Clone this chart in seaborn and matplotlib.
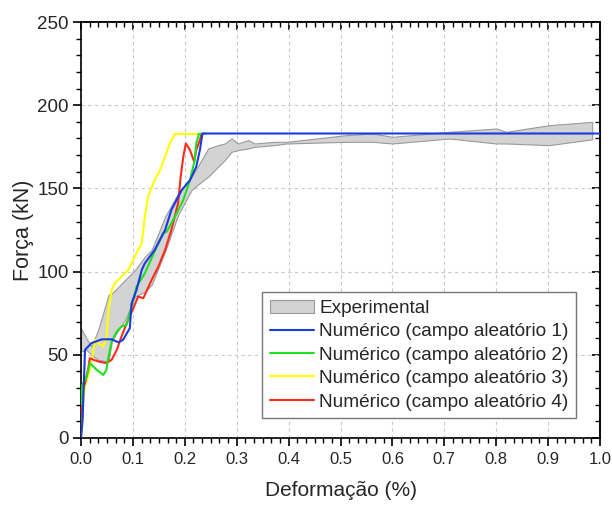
import numpy as np
import pandas as pd
import matplotlib
matplotlib.use("Agg")
import matplotlib.pyplot as plt
import seaborn as sns
from matplotlib.ticker import MultipleLocator, AutoMinorLocator

# ---------------- data ----------------
exp_up_x = [0.0, 0.01, 0.02, 0.033, 0.053, 0.06, 0.085, 0.104, 0.123, 0.136, 0.162,
            0.187, 0.213, 0.232, 0.245, 0.264, 0.277, 0.29, 0.3025, 0.322, 0.335,
            0.373, 0.396, 0.511, 0.562, 0.6, 0.71, 0.8, 0.819, 0.902, 0.985]
exp_up_y = [66, 60, 55, 65, 86, 87, 95, 101, 109, 113, 133,
            147, 157, 167, 174, 176, 177, 180, 177, 179, 177,
            178, 178, 182, 183, 181, 184, 186, 184, 188, 190]
exp_lo_y = [52, 53, 50, 47, 46, 59, 71, 85, 88, 92, 112,
            134, 149, 154, 157, 163, 167, 172, 173, 174, 175,
            176, 177, 178, 178, 177, 180, 177, 177, 176, 179.5]

num1_x = [0.0, 0.003, 0.0077, 0.02, 0.04, 0.059, 0.072, 0.081, 0.094, 0.0975, 0.107,
          0.117, 0.123, 0.142, 0.162, 0.174, 0.194, 0.21, 0.222, 0.229, 0.234, 1.0]
num1_y = [0, 11, 53, 57, 59.3, 59.3, 57.5, 59, 66, 81, 89,
          101, 105, 113, 125, 137, 149, 155, 163, 173, 183, 183]

num2_x = [0.0, 0.0025, 0.011, 0.017, 0.03, 0.043, 0.049, 0.053, 0.059, 0.069, 0.078,
          0.088, 0.094, 0.107, 0.123, 0.146, 0.158, 0.165, 0.181, 0.197, 0.21, 0.219,
          0.222, 0.227, 0.24]
num2_y = [20, 31.8, 36.8, 45, 41, 37.9, 41, 49, 58, 64, 67,
          68, 75, 91, 99, 115, 123, 124, 133, 143, 155, 167,
          177, 182.7, 183]

num3_x = [0.0, 0.0025, 0.0045, 0.0077, 0.017, 0.024, 0.027, 0.033, 0.043, 0.049, 0.053,
          0.059, 0.065, 0.091, 0.11, 0.117, 0.123, 0.129, 0.142, 0.152, 0.162, 0.171,
          0.181, 0.226]
num3_y = [0, 7.8, 23, 31, 41, 53, 59, 57, 55, 61, 77,
          89, 93, 101, 113, 117, 133, 145, 155, 161, 169, 177,
          182.7, 182.7]

num4_x = [0.0, 0.0025, 0.0077, 0.014, 0.017, 0.024, 0.033, 0.049, 0.059, 0.069, 0.078,
          0.088, 0.094, 0.11, 0.12, 0.136, 0.149, 0.162, 0.174, 0.187, 0.192, 0.197,
          0.202, 0.21, 0.218, 0.222, 0.229, 0.232]
num4_y = [15, 29, 33, 42, 48, 47, 46, 45, 47, 53, 61,
          69, 73, 85, 84, 95, 103, 113, 125, 141, 157, 169,
          177, 173, 166, 173, 179, 182.7]

labels = ["Experimental",
          "Numérico (campo aleatório 1)",
          "Numérico (campo aleatório 2)",
          "Numérico (campo aleatório 3)",
          "Numérico (campo aleatório 4)"]

x_ticks = [0.0, 0.1, 0.2, 0.3, 0.4, 0.5, 0.6, 0.7, 0.8, 0.9, 1.0]
x_ticklabels = ["0.0", "0.1", "0.2", "0.3", "0.4", "0.5", "0.6", "0.7", "0.8", "0.9", "1.0"]

# ---------------- plot ----------------
sns.set_style("ticks")
plt.rcParams['font.family'] = ['Liberation Sans', 'DejaVu Sans']

fig = plt.figure(figsize=(6.12, 5.05), dpi=100)
ax = fig.add_axes([0.1324, 0.1327, 0.848, 0.8237])

ax.fill_between(exp_up_x, exp_lo_y, exp_up_y, facecolor="#d3d3d3",
                edgecolor="#9a9a9a", linewidth=0.8, label=labels[0], zorder=2)

series = [
    (num3_x, num3_y, "#ffff00", labels[3], 3),
    (num4_x, num4_y, "#ff2a1a", labels[4], 4),
    (num2_x, num2_y, "#1ee01e", labels[2], 5),
    (num1_x, num1_y, "#1a3be0", labels[1], 6),
]
for xs, ys, col, lab, z in series:
    df = pd.DataFrame({"x": xs, "y": ys})
    sns.lineplot(data=df, x="x", y="y", sort=False, estimator=None,
                 color=col, linewidth=1.5, label=lab, ax=ax, zorder=z)

ax.set_xlim(0, 1.0)
ax.set_ylim(0, 250)
ax.set_xticks(x_ticks)
ax.set_xticklabels(x_ticklabels)
ax.xaxis.set_minor_locator(AutoMinorLocator(6))
ax.yaxis.set_major_locator(MultipleLocator(50))
ax.yaxis.set_minor_locator(AutoMinorLocator(5))

ax.grid(True, which="major", linestyle=(0, (3, 3)), color="#c8c8c8", linewidth=0.8)
ax.set_axisbelow(True)

# bottom / left ticks point out
ax.tick_params(which="both", direction="out", color="black")
ax.tick_params(which="major", length=6, width=1.2)
ax.tick_params(which="minor", length=3.5, width=1.0)
ax.tick_params(axis="x", which="major", labelsize=12, pad=4)
ax.tick_params(axis="y", which="major", labelsize=13.5, pad=3)
for s in ax.spines.values():
    s.set_linewidth(1.2)
    s.set_color("black")

# top / right ticks point in
top = ax.secondary_xaxis("top")
top.set_xticks(x_ticks)
top.xaxis.set_minor_locator(AutoMinorLocator(6))
top.tick_params(which="both", direction="in", labeltop=False, color="black")
top.tick_params(which="major", length=6, width=1.2)
top.tick_params(which="minor", length=3.5, width=1.0)
right = ax.secondary_yaxis("right")
right.yaxis.set_major_locator(MultipleLocator(50))
right.yaxis.set_minor_locator(AutoMinorLocator(5))
right.tick_params(which="both", direction="in", labelright=False, color="black")
right.tick_params(which="major", length=6, width=1.2)
right.tick_params(which="minor", length=3.5, width=1.0)
for sec in (top, right):
    for s in sec.spines.values():
        s.set_linewidth(1.2)

ax.set_xlabel("Deformação (%)", fontsize=15, labelpad=10)
ax.set_ylabel("Força (kN)", fontsize=15.5, labelpad=2)

handles, labs = ax.get_legend_handles_labels()
order = [labs.index(l) for l in labels]
leg = ax.legend([handles[i] for i in order], [labs[i] for i in order],
                loc="upper left", bbox_to_anchor=(0.349, 0.351), borderaxespad=0,
                fontsize=13.7, frameon=True, fancybox=False, framealpha=1,
                edgecolor="#777777", handlelength=2.3, handletextpad=0.3,
                labelspacing=0.32, borderpad=0.4)
leg.get_frame().set_linewidth(1.0)

fig.savefig("out.png", dpi=100)
